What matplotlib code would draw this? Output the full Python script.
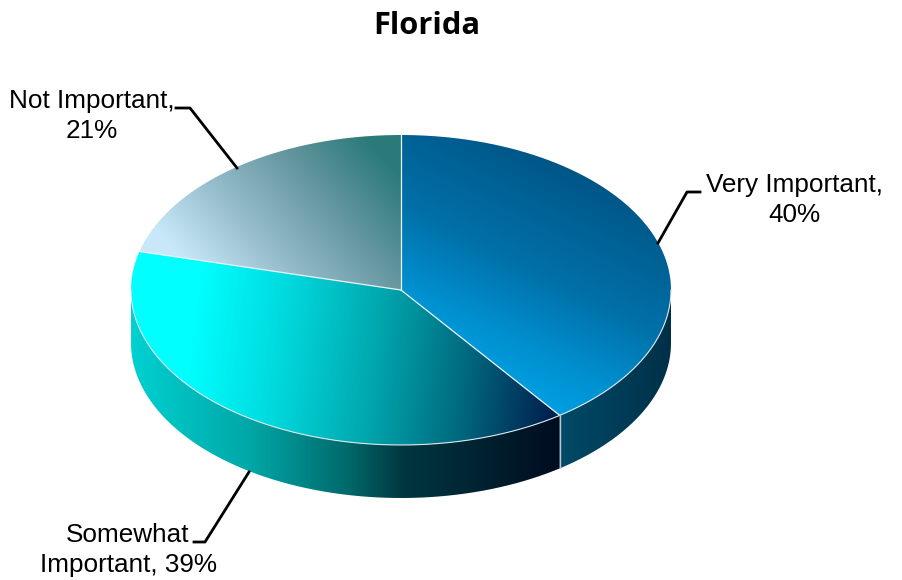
import matplotlib
matplotlib.use('Agg')
import matplotlib.pyplot as plt
from matplotlib.colors import LinearSegmentedColormap
from matplotlib.path import Path
from matplotlib.patches import PathPatch
import numpy as np

categories = ['Very Important', 'Somewhat\nImportant', 'Not Important']
values = [40, 39, 21]

# pie geometry in pixels
cx, cy = 401, 290
rx, ry = 270, 155
depth = 53

# top face gradients: start point, end point, colours
top_grad = [
    ((600, 140), (470, 400), ['#004a78', '#005f92', '#0070a8', '#0090d0', '#00a8ea']),
    ((195, 300), (560, 345), ['#00ffff', '#00d8dc', '#00a8ae', '#006a80', '#00204f']),
    ((205, 285), (370, 140), ['#c8e8fa', '#95bccb', '#65979f', '#2a7a7a']),
]
side_grad = [
    ((560, 0), (672, 0), ['#004a68', '#003048']),
    ((132, 0), (560, 0), [(0, '#00d0d0'), (0.27, '#00a8a8'), (0.5, '#006a6c'), (0.63, '#003840'), (1, '#000c20')]),
]

fig = plt.figure(figsize=(9.02, 5.8), dpi=100)
ax = fig.add_axes([0, 0, 1, 1])
ax.set_xlim(0, 902)
ax.set_ylim(580, 0)
ax.axis('off')


def ell(a):
    # a = degrees clockwise from the top
    a = np.radians(a)
    return cx + rx*np.sin(a), cy - ry*np.cos(a)


def fill_grad(verts, p0, p1, cols):
    cmap = LinearSegmentedColormap.from_list('g', cols)
    xs = np.arange(100, 700)
    ys = np.arange(120, 510)
    X, Y = np.meshgrid(xs, ys)
    d = np.array(p1, float) - np.array(p0, float)
    T = ((X-p0[0])*d[0] + (Y-p0[1])*d[1]) / (d @ d)
    im = ax.imshow(np.clip(T, 0, 1), cmap=cmap, vmin=0, vmax=1, extent=(100, 700, 510, 120),
                   aspect='auto', interpolation='bilinear', zorder=2)
    patch = PathPatch(Path(verts), transform=ax.transData, fc='none', ec='none')
    ax.add_patch(patch)
    im.set_clip_path(patch)


bounds = np.cumsum([0] + values) * 3.6

# side walls for the front slices
for i in range(2):
    lo = max(bounds[i], 90)
    hi = min(bounds[i+1], 270)
    t = np.linspace(lo, hi, 200)
    x, y = ell(t)
    verts = list(zip(x, y)) + list(zip(x[::-1], y[::-1] + depth)) + [(x[0], y[0])]
    g0, g1, cols = side_grad[i]
    fill_grad(verts, g0, g1, cols)

# top faces
for i in range(3):
    t = np.linspace(bounds[i], bounds[i+1], 300)
    x, y = ell(t)
    verts = [(cx, cy)] + list(zip(x, y)) + [(cx, cy)]
    p0, p1, cols = top_grad[i]
    fill_grad(verts, p0, p1, cols)
    ax.plot([cx, x[0]], [cy, y[0]], color='#e8f4f8', lw=0.9, zorder=3)

# light edge along the front of the top face
t = np.linspace(90, 270, 300)
x, y = ell(t)
ax.plot(x, y, color='#dce8ec', lw=0.8, zorder=3)

# seam on the side wall
sx, sy = ell(bounds[1])
ax.plot([sx, sx], [sy, sy+depth], color='#b8c8d0', lw=1.0, zorder=3)

# leader lines
ax.plot([658, 687, 700], [243, 192, 192], color='black', lw=2, zorder=4)
ax.plot([237, 190, 176], [168, 108, 108], color='black', lw=2, zorder=4)
ax.plot([249, 205, 194], [472, 542, 542], color='black', lw=2, zorder=4)

lab = dict(fontsize=18.8, family='Liberation Sans', ha='center', va='center', color='black', linespacing=1.3)
ax.text(794, 200, f'{categories[0]},\n{values[0]}%', **lab)
ax.text(92, 116, f'{categories[2]},\n{values[2]}%', **lab)
ax.text(128, 550, 'Somewhat\nImportant, %d%%' % values[1], **lab)
ax.text(427, 26, 'Florida', fontsize=22.2, family='Open Sans', weight='bold', ha='center', va='center', color='black')

fig.savefig('out.png', dpi=100)
